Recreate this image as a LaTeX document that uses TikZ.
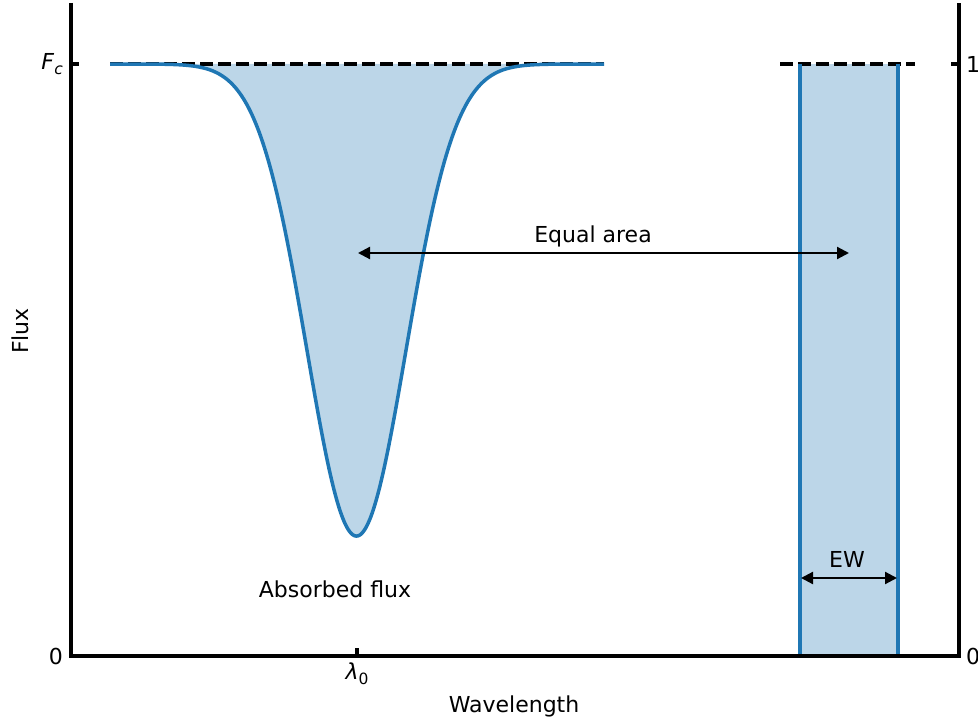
\documentclass[tikz,border=0pt]{standalone}
\usepackage{fontspec}
\setmainfont{DejaVu Sans}
\usetikzlibrary{arrows.meta}
\definecolor{mplblue}{HTML}{1F77B4}
\definecolor{mplfill}{HTML}{BCD6E8}
\newcommand{\lab}{\fontsize{22}{24}\selectfont}
\newcommand{\subl}[1]{\raisebox{-4.5pt}{\fontsize{15.5}{17}\selectfont #1}}
\begin{document}
\begin{tikzpicture}[x=1pt,y=-1pt,
  axisline/.style={line width=4.5pt, line join=miter},
  tickline/.style={line width=3.5pt},
  curveline/.style={mplblue, line width=3.5pt, line join=round},
  dashline/.style={line width=3.5pt, dash pattern=on 13pt off 5pt},
  dblarrow/.style={line width=2.2pt, {Triangle[length=12pt,width=12pt]}-{Triangle[length=12pt,width=12pt]}},
  txt/.style={font=\lab, inner sep=0pt}]
\useasboundingbox (0,0) rectangle (978,719);
% fills
\fill[mplfill] (110,64) -- plot[domain=110:604, samples=300, smooth] (\x, {64+472*exp(-0.5*((\x-356.5)/49.5)^2)}) -- (604,64) -- cycle;
\fill[mplfill] (800,64) rectangle (898,656);
% dashed continuum
\draw[dashline] (110,64) -- (604,64);
\draw[dashline] (780,64) -- (915,64);
% line profile
\draw[curveline] plot[domain=110:604, samples=300, smooth] (\x, {64+472*exp(-0.5*((\x-356.5)/49.5)^2)});
% box sides
\draw[mplblue, line width=3.5pt] (800,64) -- (800,656);
\draw[mplblue, line width=3.5pt] (898,64) -- (898,656);
% axes
\draw[axisline] (71,3) -- (71,656) -- (959,656) -- (959,3);
\draw[tickline] (71,64) -- (79,64);
\draw[tickline] (951,64) -- (959,64);
\draw[tickline] (357,656) -- (357,648);
% tick labels
\node[txt, anchor=east] (fc) at (63,64) {\textit{F}\subl{\textit{c}}};
\node[txt, anchor=east] (zl) at (63,656) {0};
\node[txt, anchor=west] (one) at (966,64) {1};
\node[txt, anchor=west] (zr) at (966,656) {0};
\node[txt] (lam) at (357,674) {\textit{λ}\subl{0}};
% axis labels
\node[txt] (xl) at (514,706) {Wavelength};
\node[txt, rotate=90] (yl) at (20,331) {Flux};
% arrows and labels
\coordinate (eaL) at (358,253);
\coordinate (eaR) at (849,253);
\draw[dblarrow] (eaL) -- (eaR);
\node[txt] (ea) at (593,236) {Equal area};
\coordinate (ewL) at (801,578);
\coordinate (ewR) at (897,578);
\draw[dblarrow] (ewL) -- (ewR);
\node[txt] (ew) at (847,559) {EW};
\node[txt] (abs) at (335,589) {Absorbed flux};
\end{tikzpicture}
\end{document}
